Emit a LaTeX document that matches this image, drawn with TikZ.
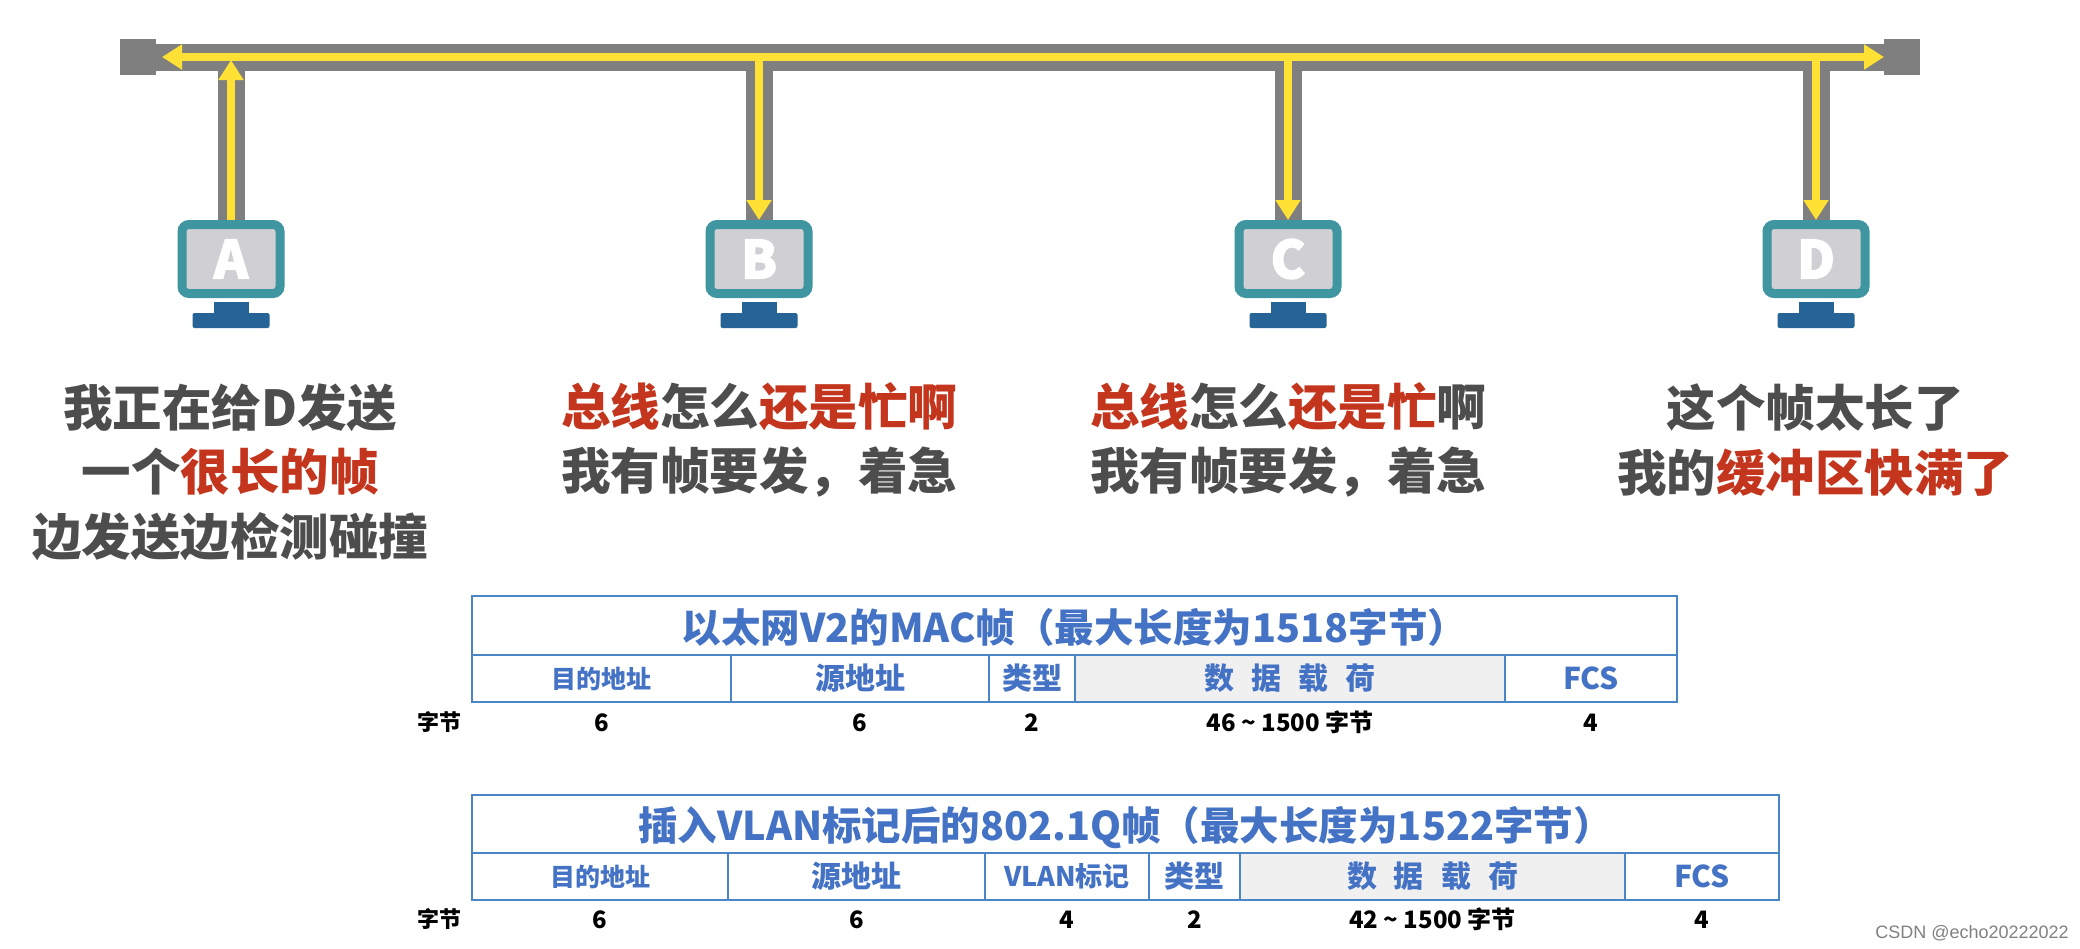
\documentclass[tikz,border=0pt]{standalone}
\usepackage{fontspec}
\setmainfont{Noto Sans CJK SC}
\newfontfamily\wmfont{Liberation Sans}
\newfontfamily\pcfont[BoldFeatures={FakeBold=2.5}]{Noto Sans CJK SC}
\usetikzlibrary{arrows.meta,positioning}
\definecolor{busgray}{HTML}{7F7F7F}
\definecolor{sigyellow}{HTML}{FFE135}
\definecolor{pcteal}{HTML}{3F95A0}
\definecolor{pcblue}{HTML}{266396}
\definecolor{pcgray}{HTML}{D0D0D4}
\definecolor{msgtext}{HTML}{4D4D4D}
\definecolor{msgred}{HTML}{C4351E}
\definecolor{framblue}{HTML}{4A86C5}
\definecolor{framtext}{HTML}{4472C4}
\definecolor{datafill}{HTML}{F0F0F0}
\newcommand{\hot}[1]{\textcolor{msgred}{#1}}
\newcommand{\addrcell}[1]{{\fontsize{25}{25}\selectfont #1}}
\newcommand{\payload}{数\hspace{17pt}据\hspace{17pt}载\hspace{17pt}荷}
\newcommand{\fs}[1]{\fontsize{#1}{#1}\selectfont}
\tikzset{
  term/.style={fill=busgray,minimum size=36pt,inner sep=0pt},
  busline/.style={busgray,line width=27pt},
  sigline/.style={sigyellow,line width=8pt,-{Triangle[width=24pt,length=20pt]}},
  pc/.style={draw=pcteal,fill=pcgray,line width=9pt,rounded corners=7pt,minimum width=98pt,minimum height=69pt,inner sep=0pt,text=white,font=\fs{52}\pcfont\bfseries},
  neck/.style={fill=pcblue,minimum width=35pt,minimum height=11pt,inner sep=0pt,outer sep=0pt},
  foot/.style={fill=pcblue,rounded corners=2pt,minimum width=77pt,minimum height=15pt,inner sep=0pt,outer sep=0pt},
  msg/.style={align=center,text=msgtext,inner sep=0pt,font=\fontsize{49.5}{64.5}\selectfont\bfseries},
  cell/.style={draw=framblue,line width=2pt,anchor=north west,inner sep=0pt,outer sep=0pt,text=framtext,font=\fs{30}\bfseries},
  datacell/.style={cell,fill=datafill},
  numlabel/.style={inner sep=0pt,text height=17pt,text depth=2pt,font=\fs{24}\bfseries},
  unitlabel/.style={inner sep=0pt,text height=17pt,text depth=2pt,font=\fs{22}\bfseries},
  titlecell/.style={cell,font=\fs{39.5}\bfseries,text depth=0pt,text height=33pt}
}
\begin{document}
\begin{tikzpicture}[x=1pt,y=-1pt]
  \useasboundingbox (0,0) rectangle (2080,948);
  \node[term] (termL) at (138,57) {};
  \node[term] (termR) at (1902,57) {};
  \draw[busline] (termL) -- (termR);
  \coordinate (tipL) at (162,57);
  \coordinate (tipR) at (1884,57);
  \foreach \n/\x in {A/231,B/759,C/1288,D/1816}{
    \coordinate (tap\n) at (\x,60);
    \node[pc] (pc\n) at (\x,259) {\n};
    \node[neck,below=4pt of pc\n] (neck\n) {};
    \node[foot,below=0pt of neck\n] (foot\n) {};
    \draw[busline] (tap\n) -- (pc\n.north);
  }
  \draw[sigline,{Triangle[width=24pt,length=20pt]}-{Triangle[width=24pt,length=20pt]}] (tipL) -- (tipR);
  \draw[sigline] (pcA.north) -- (tapA);
  \foreach \n in {B,C,D}{
    \draw[sigline] (tap\n) -- (pc\n.north);
  }
  \node[msg] (msgA) at (230,472) {我正在给D发送\\一个\hot{很长的帧}\\边发送边检测碰撞};
  \node[msg] (msgB) at (759,440) {\hot{总线}怎么\hot{还是忙啊}\\我有帧要发，着急};
  \node[msg] (msgC) at (1288,440) {\hot{总线}怎么\hot{还是忙}啊\\我有帧要发，着急};
  \node[msg] (msgD) at (1815,440) {这个帧太长了\\我的\hot{缓冲区快满了}};

  \node[titlecell,minimum width=1205pt,minimum height=59pt] (macT) at (472,596) {以太网V2的MAC帧（最大长度为1518字节）};
  \foreach \a/\b/\t/\s/\v [count=\i] in {
    472/731/\addrcell{目的地址}/cell/6,
    731/989/源地址/cell/6,
    989/1075/类型/cell/2,
    1075/1505/\payload/datacell/46 \textasciitilde{} 1500 字节,
    1505/1677/FCS/cell/4}{
    \node[\s,minimum width={(\b-\a)*1pt},minimum height=47pt] (mac\i) at (\a,655) {\t};
    \node[numlabel,below=12pt of mac\i] (macn\i) {\v};
  }
  \node[unitlabel] (macU) at (439,723) {字节};

  \node[titlecell,minimum width=1307pt,minimum height=58pt] (vlanT) at (472,795) {插入VLAN标记后的802.1Q帧（最大长度为1522字节）};
  \foreach \a/\b/\t/\s/\v [count=\i] in {
    472/728/\addrcell{目的地址}/cell/6,
    728/985/源地址/cell/6,
    985/1149/{\fs{27}VLAN标记}/cell/4,
    1149/1240/类型/cell/2,
    1240/1625/\payload/datacell/42 \textasciitilde{} 1500 字节,
    1625/1779/FCS/cell/4}{
    \node[\s,minimum width={(\b-\a)*1pt},minimum height=47pt] (vlan\i) at (\a,853) {\t};
    \node[numlabel,below=11pt of vlan\i] (vlann\i) {\v};
  }
  \node[unitlabel] (vlanU) at (439,920) {字节};

  \node[text=gray,inner sep=0pt,font=\fs{18}\wmfont] (mark) at (1972,933) {CSDN @echo20222022};
\end{tikzpicture}
\end{document}
